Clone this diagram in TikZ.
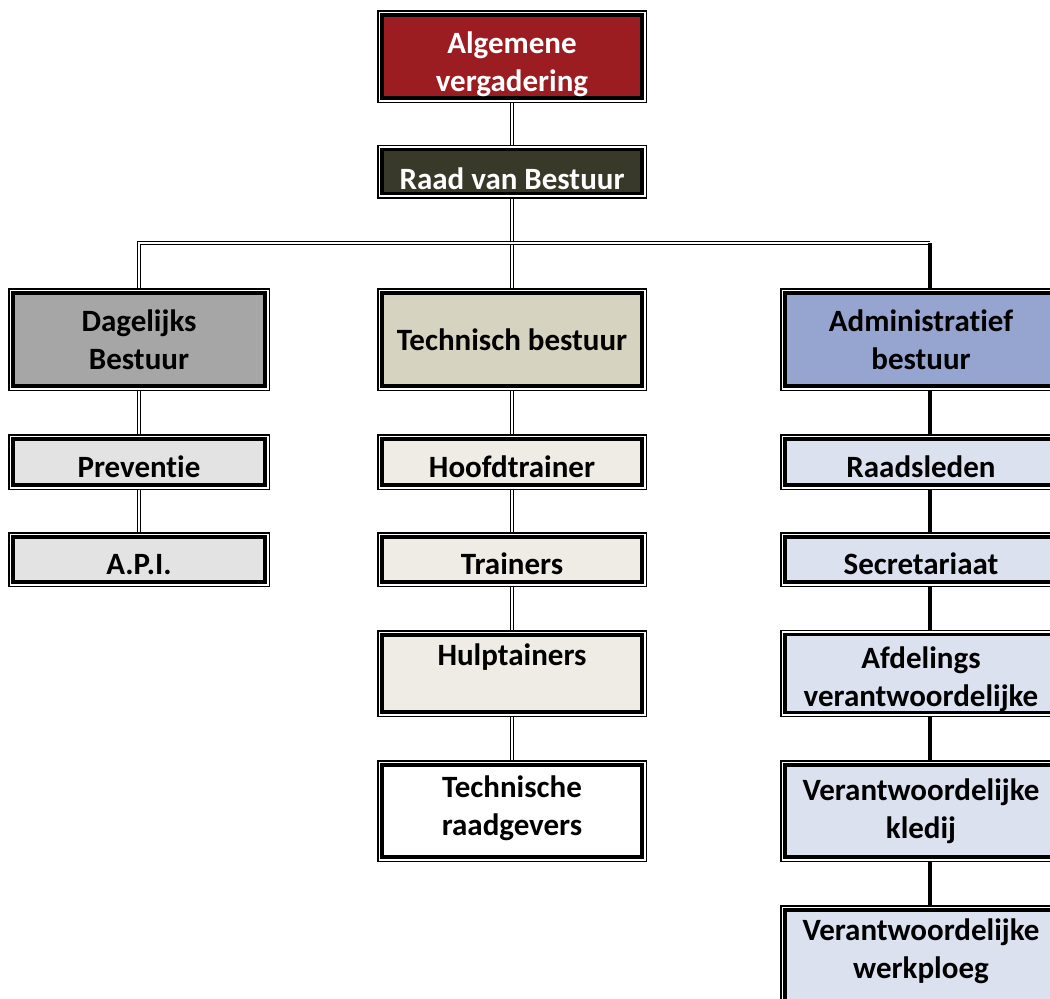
\documentclass[tikz,border=0pt]{standalone}
\usepackage{fontspec}
\setmainfont{Carlito}[Ligatures=NoCommon]
\usepackage{xcolor}
\usetikzlibrary{positioning,backgrounds}

\definecolor{algred}{RGB}{155,29,34}
\definecolor{raadgreen}{RGB}{56,57,41}
\definecolor{daggray}{RGB}{166,166,166}
\definecolor{techbeige}{RGB}{214,212,192}
\definecolor{admblue}{RGB}{149,165,207}
\definecolor{leftlight}{RGB}{227,227,227}
\definecolor{midlight}{RGB}{238,236,228}
\definecolor{rightlight}{RGB}{220,225,240}

\begin{document}
\begin{tikzpicture}[x=1pt,y=-1pt,
    box/.style={draw=black, line width=3.2pt,
        preaction={draw=black, line width=10pt},
        preaction={draw=white, line width=7pt},
        align=center, inner sep=0pt, text=black,
        font=\fontsize{31}{38}\selectfont\bfseries},
    lbox/.style={box, minimum width=252pt},
    cbox/.style={box, minimum width=260pt},
    rbox/.style={box, minimum width=272pt},
    zak/.style={text height=34pt, text depth=4pt},
    dbl/.style={draw=black, double=white, line width=1.3pt, double distance=2pt},
    sgl/.style={draw=black, line width=4pt}]

        %KADER
        \useasboundingbox (0,0) rectangle (1050,999);

        %BOVEN
        \node[cbox, fill=algred, text=white, minimum height=83pt, text height=76pt] (alg) at (512,56.5) {Algemene\\vergadering};
        \node[cbox, fill=raadgreen, text=white, minimum height=41pt, zak, text height=40pt] (raad) at (512,171.5) {Raad van Bestuur};

        %RIJ 1
        \node[lbox, fill=daggray, minimum height=93pt] (dag) at (139,339.5) {Dagelijks\\Bestuur};
        \node[cbox, fill=techbeige, minimum height=93pt] (tech) at (512,339.5) {Technisch bestuur};
        \node[rbox, fill=admblue, minimum height=93pt] (adm) at (921,339.5) {Administratief\\bestuur};

        %RIJ 2
        \node[lbox, fill=leftlight, minimum height=46pt, zak] (prev) at (139,462) {Preventie};
        \node[cbox, fill=midlight, minimum height=46pt, zak] (hoofd) at (512,462) {Hoofdtrainer};
        \node[rbox, fill=rightlight, minimum height=46pt, zak] (raadsl) at (921,462) {Raadsleden};

        %RIJ 3
        \node[lbox, fill=leftlight, minimum height=45pt, zak] (api) at (139,559.5) {A.P.I.};
        \node[cbox, fill=midlight, minimum height=45pt, zak] (train) at (512,559.5) {Trainers};
        \node[rbox, fill=rightlight, minimum height=45pt, zak] (secr) at (921,559.5) {Secretariaat};

        %RIJ 4
        \node[cbox, fill=midlight, minimum height=77pt] (hulp) at (512,673.5) {Hulptainers\\\mbox{}};
        \node[rbox, fill=rightlight, minimum height=77pt, text height=72pt] (afd) at (921,673.5) {Afdelings\\verantwoordelijke};

        %RIJ 5
        \node[cbox, fill=white, minimum height=92pt, text height=54pt] (raadg) at (512,811) {Technische\\raadgevers};
        \node[rbox, fill=rightlight, minimum height=92pt] (kled) at (921,811) {Verantwoordelijke\\kledij};

        %RIJ 6
        \node[rbox, fill=rightlight, minimum height=92pt, text height=50pt] (werk) at (921,956) {Verantwoordelijke\\werkploeg};

        %LIJNEN
        \coordinate (rhoek) at (930,243);
        \begin{scope}[on background layer]
            \draw[dbl] (alg) -- (raad) -- (tech) -- (hoofd) -- (train) -- (hulp) -- (raadg);
            \draw[dbl] (dag.north) |- (rhoek);
            \draw[dbl] (dag) -- (prev) -- (api);
            \draw[sgl] (rhoek) -- ([xshift=9pt]adm.center) -- ([xshift=9pt]werk.center);
        \end{scope}
    \end{tikzpicture}
\end{document}
